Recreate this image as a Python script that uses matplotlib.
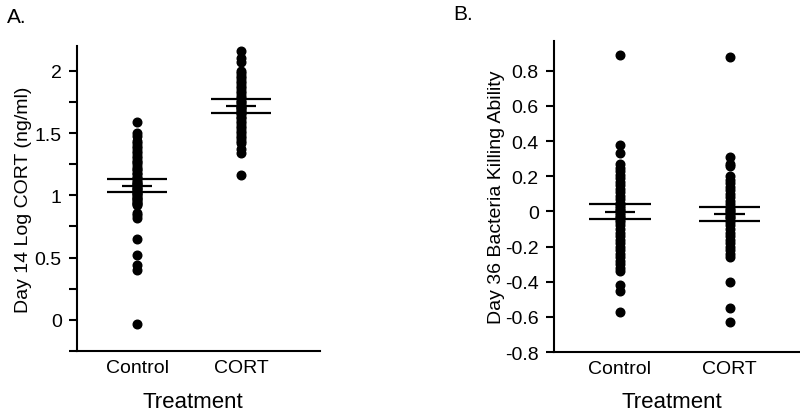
import numpy as np
import matplotlib.pyplot as plt
from matplotlib.ticker import MultipleLocator

plt.rcParams['font.family'] = ['Liberation Sans', 'DejaVu Sans']

groups = ['Control', 'CORT']

# Panel A: Day 14 log CORT
cort_control = [1.59, 1.50, 1.48, 1.44, 1.42, 1.40, 1.38, 1.36, 1.34, 1.32, 1.30,
                1.28, 1.27, 1.25, 1.23, 1.21, 1.20, 1.18, 1.17, 1.15, 1.14, 1.12,
                1.11, 1.10, 1.09, 1.08, 1.07, 1.06, 1.05, 1.04, 1.03, 1.02, 1.01,
                1.00, 0.99, 0.98, 0.97, 0.96, 0.95, 0.94, 0.93, 0.92, 0.86, 0.84,
                0.82, 0.65, 0.52, 0.44, 0.40, -0.03]
cort_cort = [2.16, 2.10, 2.07, 2.00, 1.98, 1.96, 1.94, 1.92, 1.90, 1.88, 1.86,
             1.84, 1.82, 1.80, 1.78, 1.76, 1.75, 1.73, 1.72, 1.71, 1.70, 1.69,
             1.68, 1.67, 1.66, 1.65, 1.63, 1.62, 1.60, 1.58, 1.56, 1.54, 1.52,
             1.50, 1.48, 1.46, 1.44, 1.42, 1.37, 1.34, 1.16]
cort_mean = [1.078, 1.718]
cort_upper = [1.135, 1.772]
cort_lower = [1.025, 1.665]

# Panel B: Day 36 bacteria killing ability
bka_control = [0.89, 0.38, 0.33, 0.27, 0.25, 0.23, 0.21, 0.19, 0.17, 0.15, 0.13,
               0.11, 0.09, 0.07, 0.05, 0.04, 0.03, 0.02, 0.01, 0.0, -0.01, -0.02,
               -0.03, -0.04, -0.05, -0.06, -0.08, -0.10, -0.12, -0.14, -0.16,
               -0.18, -0.20, -0.22, -0.24, -0.26, -0.28, -0.30, -0.32, -0.34,
               -0.42, -0.45, -0.57]
bka_cort = [0.88, 0.31, 0.27, 0.26, 0.20, 0.18, 0.16, 0.14, 0.12, 0.10, 0.08,
            0.06, 0.04, 0.02, 0.01, 0.0, -0.01, -0.02, -0.03, -0.04, -0.06, -0.08,
            -0.10, -0.12, -0.14, -0.16, -0.18, -0.20, -0.22, -0.24, -0.26, -0.40,
            -0.55, -0.63]
bka_mean = [-0.002, -0.015]
bka_upper = [0.040, 0.023]
bka_lower = [-0.042, -0.055]


def draw_panel(ax, data, means, upper, lower, half_wide, half_mean):
    for i, vals in enumerate(data):
        x = i + 1
        ax.plot(np.full(len(vals), x), vals, 'o', color='black', ms=6.2,
                mec='black', zorder=3)
        ax.hlines([upper[i], lower[i]], x - half_wide, x + half_wide,
                  color='black', lw=1.6, zorder=4)
        ax.hlines(means[i], x - half_mean, x + half_mean,
                  color='black', lw=1.6, zorder=4)
    ax.set_xticks([1, 2])
    ax.set_xticklabels(groups, fontsize=14)
    ax.tick_params(axis='x', length=0, pad=6)
    ax.tick_params(axis='y', which='both', length=6, width=1.5, labelsize=14, pad=5)
    for s in ['top', 'right']:
        ax.spines[s].set_visible(False)
    for s in ['left', 'bottom']:
        ax.spines[s].set_linewidth(1.5)


fig = plt.figure(figsize=(8, 4.14), dpi=100)

axA = fig.add_axes([0.09625, 0.1498, 0.30375, 0.7367])
draw_panel(axA, [cort_control, cort_cort], cort_mean, cort_upper, cort_lower, 0.29, 0.145)
axA.set_xlim(0.42, 2.76)
axA.set_ylim(-0.25, 2.2)
axA.yaxis.set_major_locator(MultipleLocator(0.5))
axA.yaxis.set_minor_locator(MultipleLocator(0.25))
axA.yaxis.set_major_formatter(plt.FuncFormatter(lambda v, p: f'{v:g}'))
axA.set_ylabel('Day 14 Log CORT (ng/ml)', fontsize=14, labelpad=2)

axB = fig.add_axes([0.6925, 0.1473, 0.3075, 0.7513])
draw_panel(axB, [bka_control, bka_cort], bka_mean, bka_upper, bka_lower, 0.28, 0.14)
axB.set_xlim(0.40, 2.64)
axB.set_ylim(-0.8, 0.97)
axB.yaxis.set_major_locator(MultipleLocator(0.2))
axB.yaxis.set_major_formatter(plt.FuncFormatter(lambda v, p: f'{v:.1f}' if abs(v) > 1e-9 else '0'))
axB.set_ylabel('Day 36 Bacteria Killing Ability', fontsize=14, labelpad=0)

fig.text(0.2413, 0.002, 'Treatment', fontsize=16, ha='center', va='bottom')
fig.text(0.84, 0.002, 'Treatment', fontsize=16, ha='center', va='bottom')
fig.text(7 / 800, 1 - 23 / 414, 'A.', fontsize=15, ha='left', va='baseline')
fig.text(453 / 800, 1 - 20 / 414, 'B.', fontsize=15, ha='left', va='baseline')

fig.savefig('out.png', dpi=100)
